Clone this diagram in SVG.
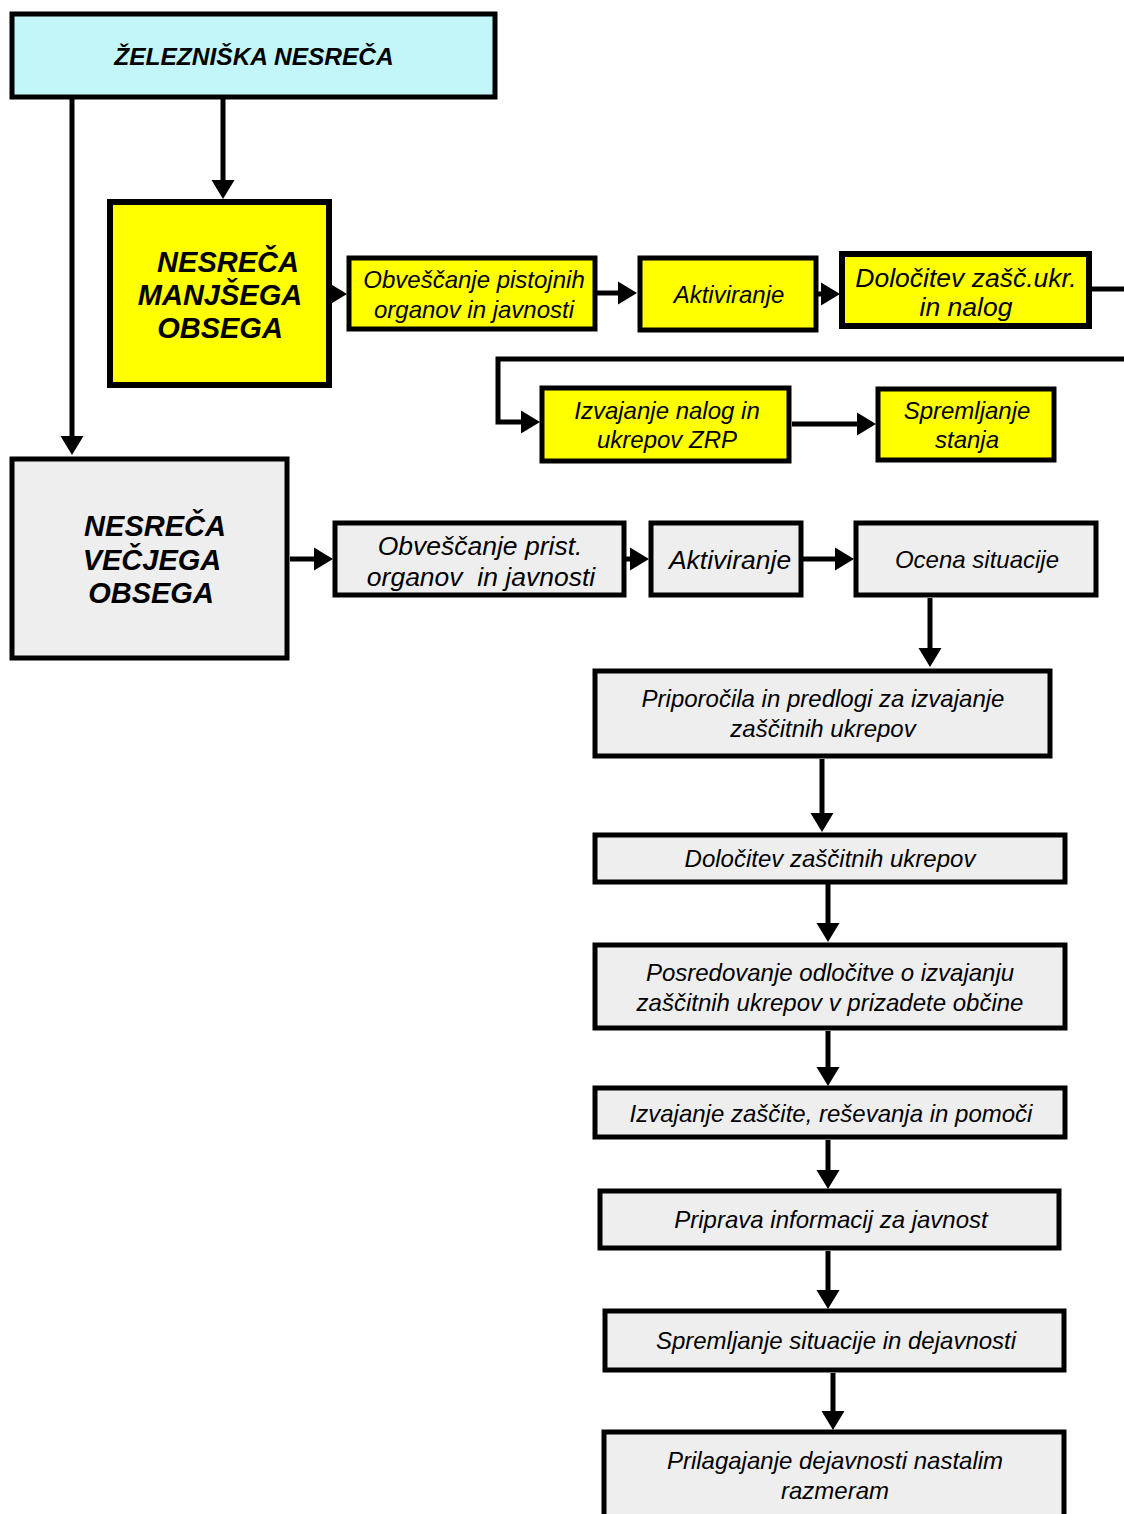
<svg xmlns="http://www.w3.org/2000/svg" width="1124" height="1514" viewBox="0 0 1124 1514">
<style>
.bx{stroke:#000;stroke-width:5}
.thick{stroke-width:6}
.yel{fill:#ffff00}
.gry{fill:#eeeeee}
.cyn{fill:#c2f6f8}
.t{font-family:"Liberation Sans",Arial,sans-serif;font-style:italic;fill:#000;text-anchor:middle}
.s24{font-size:24px}
.s26{font-size:26.5px}
.big{font-size:29px;font-weight:bold}
.ttl{font-size:24.5px;font-weight:bold}
.ln{fill:none;stroke:#000;stroke-width:5}
.ar{marker-end:url(#ah)}
</style>
<defs>
<marker id="ah" markerUnits="userSpaceOnUse" markerWidth="20" markerHeight="24" refX="10" refY="11.5" orient="auto" viewBox="0 0 20 23">
<path d="M0,0 L19,11.5 L0,23 z" fill="#000"/>
</marker>
</defs>

<g id="connectors">
<line class="ln ar" x1="72" y1="99" x2="72" y2="446"/>
<line class="ln ar" x1="223" y1="99" x2="223" y2="190"/>
<line class="ln ar" x1="332" y1="294" x2="338" y2="294"/>
<line class="ln ar" x1="597" y1="293" x2="628" y2="293"/>
<line class="ln ar" x1="818" y1="294" x2="831" y2="294"/>
<line class="ln" x1="1092" y1="289" x2="1124" y2="289"/>
<polyline class="ln ar" points="1124,359 498,359 498,422 531,422"/>
<line class="ln ar" x1="792" y1="424" x2="867" y2="424"/>
<line class="ln ar" x1="290" y1="559" x2="324" y2="559"/>
<line class="ln ar" x1="626" y1="559" x2="640" y2="559"/>
<line class="ln ar" x1="803" y1="559" x2="845" y2="559"/>
<line class="ln ar" x1="930" y1="598" x2="930" y2="658"/>
<line class="ln ar" x1="822" y1="759" x2="822" y2="823"/>
<line class="ln ar" x1="828" y1="884" x2="828" y2="933"/>
<line class="ln ar" x1="828" y1="1031" x2="828" y2="1077"/>
<line class="ln ar" x1="828" y1="1140" x2="828" y2="1180"/>
<line class="ln ar" x1="828" y1="1251" x2="828" y2="1300"/>
<line class="ln ar" x1="833" y1="1373" x2="833" y2="1421"/>
</g>

<g id="zelezniska">
<rect class="bx cyn" x="12" y="14" width="483" height="83"/>
<text class="t ttl" x="254" y="65">ŽELEZNIŠKA NESREČA</text>
</g>

<g id="manjsega">
<rect class="bx thick yel" x="110" y="202" width="219" height="183"/>
<text class="t big" x="228" y="272">NESREČA</text>
<text class="t big" x="220" y="305">MANJŠEGA</text>
<text class="t big" x="220" y="338">OBSEGA</text>
</g>

<g id="obvescanje1">
<rect class="bx yel" x="349" y="258" width="246" height="71"/>
<text class="t s24" x="474" y="288">Obveščanje pistojnih</text>
<text class="t s24" x="474" y="318">organov in javnosti</text>
</g>

<g id="aktiviranje1">
<rect class="bx yel" x="640" y="258" width="176" height="72"/>
<text class="t s24" x="729" y="303">Aktiviranje</text>
</g>

<g id="dolocitev1">
<rect class="bx thick yel" x="842" y="254" width="247" height="72"/>
<text class="t s26" x="966" y="287">Določitev zašč.ukr.</text>
<text class="t s26" x="966" y="316">in nalog</text>
</g>

<g id="izvajanje1">
<rect class="bx yel" x="542" y="388" width="247" height="73"/>
<text class="t s24" x="667" y="419">Izvajanje nalog in</text>
<text class="t s24" x="667" y="448">ukrepov ZRP</text>
</g>

<g id="spremljanje1">
<rect class="bx yel" x="878" y="389" width="176" height="71"/>
<text class="t s24" x="967" y="419">Spremljanje</text>
<text class="t s24" x="967" y="448">stanja</text>
</g>

<g id="vecjega">
<rect class="bx gry" x="12" y="459" width="275" height="199"/>
<text class="t big" x="155" y="536">NESREČA</text>
<text class="t big" x="152" y="570">VEČJEGA</text>
<text class="t big" x="151" y="603">OBSEGA</text>
</g>

<g id="obvescanje2">
<rect class="bx gry" x="335" y="523" width="289" height="72"/>
<text class="t s26" x="480" y="555">Obveščanje prist.</text>
<text class="t s26" x="481" y="586" xml:space="preserve">organov  in javnosti</text>
</g>

<g id="aktiviranje2">
<rect class="bx gry" x="651" y="523" width="150" height="72"/>
<text class="t s26" x="730" y="569">Aktiviranje</text>
</g>

<g id="ocena">
<rect class="bx gry" x="856" y="523" width="240" height="72"/>
<text class="t s24" x="977" y="568">Ocena situacije</text>
</g>

<g id="priporocila">
<rect class="bx gry" x="595" y="671" width="455" height="85"/>
<text class="t s24" x="823" y="707">Priporočila in predlogi za izvajanje</text>
<text class="t s24" x="823" y="737">zaščitnih ukrepov</text>
</g>

<g id="dolocitev2">
<rect class="bx gry" x="595" y="835" width="470" height="47"/>
<text class="t s24" x="830" y="867">Določitev zaščitnih ukrepov</text>
</g>

<g id="posredovanje">
<rect class="bx gry" x="595" y="945" width="470" height="83"/>
<text class="t s24" x="830" y="981">Posredovanje odločitve o izvajanju</text>
<text class="t s24" x="830" y="1011">zaščitnih ukrepov v prizadete občine</text>
</g>

<g id="izvajanje2">
<rect class="bx gry" x="595" y="1088" width="470" height="49"/>
<text class="t s24" x="831" y="1122">Izvajanje zaščite, reševanja in pomoči</text>
</g>

<g id="priprava">
<rect class="bx gry" x="600" y="1191" width="459" height="57"/>
<text class="t s24" x="831" y="1228">Priprava informacij za javnost</text>
</g>

<g id="spremljanje2">
<rect class="bx gry" x="605" y="1311" width="459" height="59"/>
<text class="t s24" x="836" y="1349">Spremljanje situacije in dejavnosti</text>
</g>

<g id="prilagajanje">
<rect class="bx gry" x="604" y="1432" width="460" height="100"/>
<text class="t s24" x="835" y="1469">Prilagajanje dejavnosti nastalim</text>
<text class="t s24" x="835" y="1499">razmeram</text>
</g>
</svg>
